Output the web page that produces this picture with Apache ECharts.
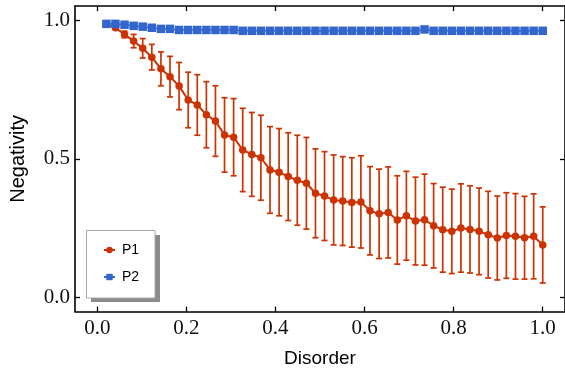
<!DOCTYPE html>
<html>
<head>
<meta charset="utf-8">
<script src="https://cdn.jsdelivr.net/npm/echarts@6/dist/echarts.min.js"></script>
<style>
  html, body { margin: 0; padding: 0; background: #fff; }
  #chart { width: 565px; height: 376px; }
</style>
</head>
<body>
<div id="chart"></div>
<script>
// Disorder strength sampled on a regular grid
const disorder = [
  0.0204, 0.0408, 0.0612, 0.0816, 0.1020, 0.1224, 0.1429, 0.1633, 0.1837, 0.2041,
  0.2245, 0.2449, 0.2653, 0.2857, 0.3061, 0.3265, 0.3469, 0.3673, 0.3878, 0.4082,
  0.4286, 0.4490, 0.4694, 0.4898, 0.5102, 0.5306, 0.5510, 0.5714, 0.5918, 0.6122,
  0.6327, 0.6531, 0.6735, 0.6939, 0.7143, 0.7347, 0.7551, 0.7755, 0.7959, 0.8163,
  0.8367, 0.8571, 0.8776, 0.8980, 0.9184, 0.9388, 0.9592, 0.9796, 1.0000
];

// P1: mean negativity and its spread
const p1 = [
  0.985, 0.972, 0.948, 0.924, 0.898, 0.866, 0.824, 0.796, 0.762, 0.712,
  0.694, 0.659, 0.636, 0.586, 0.578, 0.532, 0.516, 0.504, 0.460, 0.452,
  0.436, 0.423, 0.412, 0.376, 0.366, 0.352, 0.348, 0.343, 0.345, 0.313,
  0.302, 0.307, 0.280, 0.295, 0.276, 0.281, 0.259, 0.245, 0.239, 0.251,
  0.246, 0.239, 0.227, 0.215, 0.224, 0.221, 0.216, 0.221, 0.190
];
const p1Err = [
  0.003, 0.006, 0.012, 0.024, 0.035, 0.046, 0.061, 0.073, 0.085, 0.100,
  0.109, 0.119, 0.127, 0.134, 0.139, 0.150, 0.151, 0.153, 0.156, 0.157,
  0.158, 0.162, 0.165, 0.160, 0.160, 0.162, 0.160, 0.161, 0.166, 0.159,
  0.161, 0.164, 0.159, 0.160, 0.158, 0.164, 0.152, 0.153, 0.152, 0.159,
  0.157, 0.156, 0.156, 0.151, 0.154, 0.154, 0.149, 0.153, 0.137
];

// P2: mean negativity
const p2 = [
  0.986, 0.986, 0.983, 0.979, 0.976, 0.972, 0.968, 0.968, 0.964, 0.964,
  0.964, 0.964, 0.964, 0.964, 0.964, 0.961, 0.961, 0.961, 0.961, 0.961,
  0.961, 0.961, 0.961, 0.961, 0.961, 0.961, 0.961, 0.961, 0.961, 0.961,
  0.961, 0.961, 0.961, 0.961, 0.961, 0.966, 0.961, 0.961, 0.961, 0.961,
  0.961, 0.961, 0.961, 0.961, 0.961, 0.961, 0.961, 0.961, 0.961
];

const xTicks = [0, 0.2, 0.4, 0.6, 0.8, 1.0];
const yTicks = [0, 0.5, 1.0];

const RED = '#cc3300';
const BLUE = '#3366cc';
const tickFont = 'Liberation Serif, Times New Roman, serif';
const sansFont = 'Liberation Sans, Arial, Helvetica, sans-serif';

const p1Points = disorder.map((x, i) => [x, p1[i]]);
const p2Points = disorder.map((x, i) => [x, p2[i]]);
const p1Bars = disorder.map((x, i) => [x, p1[i] - p1Err[i], p1[i] + p1Err[i]]);

const frameLine = { show: true, onZero: false, lineStyle: { color: '#000', width: 1.6 } };

function axisX(position, showLabels) {
  return {
    type: 'value', position: position, min: -0.05, max: 1.05,
    axisLine: frameLine,
    axisTick: { show: true, inside: true, length: 5, customValues: xTicks,
      lineStyle: { color: '#000', width: 1.3 } },
    axisLabel: { show: showLabels, customValues: xTicks, margin: 6,
      fontFamily: tickFont, fontSize: 21, color: '#111',
      formatter: v => v.toFixed(1) },
    splitLine: { show: false },
    name: showLabels ? 'Disorder' : '',
    nameLocation: 'middle', nameGap: 38,
    nameTextStyle: { fontFamily: sansFont, fontSize: 19, color: '#000' }
  };
}
function axisY(position, showLabels) {
  return {
    type: 'value', position: position, min: -0.05, max: 1.05,
    axisLine: frameLine,
    axisTick: { show: true, inside: true, length: 5, customValues: yTicks,
      lineStyle: { color: '#000', width: 1.3 } },
    axisLabel: { show: showLabels, customValues: yTicks, margin: 5,
      fontFamily: tickFont, fontSize: 21, color: '#111',
      formatter: v => v.toFixed(1) },
    splitLine: { show: false },
    name: showLabels ? 'Negativity' : '',
    nameLocation: 'middle', nameGap: 47,
    nameTextStyle: { fontFamily: sansFont, fontSize: 20, color: '#000' }
  };
}

const chart = echarts.init(document.getElementById('chart'), null, { renderer: 'canvas' });

chart.setOption({
  animation: false,
  backgroundColor: '#fff',
  grid: { left: 73.3, top: 6.1, width: 493.4, height: 305.5, containLabel: false },
  xAxis: [axisX('bottom', true), axisX('top', false)],
  yAxis: [axisY('left', true), axisY('right', false)],
  // Framed legend box with a hard drop shadow
  graphic: [
    { type: 'rect', z: 90, silent: true,
      shape: { x: 91, y: 235, width: 69, height: 67 },
      style: { fill: '#8a8a8a' } },
    { type: 'rect', z: 91, silent: true,
      shape: { x: 86.5, y: 230.5, width: 68.5, height: 67.5 },
      style: { fill: '#fff', stroke: '#a8a8a8', lineWidth: 1 } }
  ],
  legend: {
    orient: 'vertical', left: 103, top: 242, z: 95,
    padding: 0,
    itemGap: 11, itemWidth: 11, itemHeight: 8,
    textStyle: { fontFamily: sansFont, fontSize: 14, color: '#000', lineHeight: 16, padding: [0, 0, 0, 2] },
    data: ['P1', 'P2']
  },
  series: [
    {
      name: 'P1 spread', type: 'custom', xAxisIndex: 0, yAxisIndex: 0,
      data: p1Bars, z: 2, silent: true,
      renderItem: function (params, api) {
        const x = api.value(0);
        const lo = api.coord([x, api.value(1)]);
        const hi = api.coord([x, api.value(2)]);
        const cap = 3;
        const style = { stroke: RED, lineWidth: 1.7 };
        return {
          type: 'group',
          children: [
            { type: 'line', shape: { x1: lo[0], y1: lo[1], x2: hi[0], y2: hi[1] }, style: style },
            { type: 'line', shape: { x1: lo[0] - cap, y1: lo[1], x2: lo[0] + cap, y2: lo[1] }, style: style },
            { type: 'line', shape: { x1: hi[0] - cap, y1: hi[1], x2: hi[0] + cap, y2: hi[1] }, style: style }
          ]
        };
      }
    },
    {
      name: 'P1', type: 'line', data: p1Points, z: 3,
      symbol: 'circle', symbolSize: 7.5, showAllSymbol: true,
      lineStyle: { color: RED, width: 2 },
      itemStyle: { color: RED }
    },
    {
      name: 'P2', type: 'line', data: p2Points, z: 4,
      symbol: 'rect', symbolSize: 8.5, showAllSymbol: true,
      lineStyle: { color: BLUE, width: 1.5 },
      itemStyle: { color: BLUE }
    }
  ]
});
</script>
</body>
</html>
